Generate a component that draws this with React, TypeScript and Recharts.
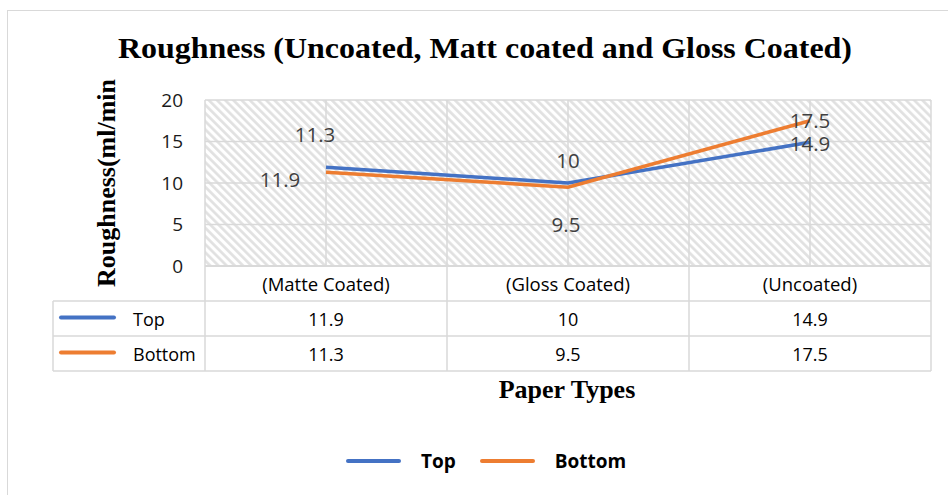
import React from 'react';
import { LineChart, Line, XAxis, YAxis, CartesianGrid, LabelList } from 'recharts';

// Paper types shown along the category axis
const categories = ['(Matte Coated)', '(Gloss Coated)', '(Uncoated)'];
// Roughness (ml/min) for each side of the sheet
const topValues = [11.9, 10, 14.9];
const bottomValues = [11.3, 9.5, 17.5];
const yTicks = [0, 5, 10, 15, 20];

const seriesNames = ['Top', 'Bottom'];
const seriesColors = ['#4472C4', '#ED7D31'];

const data = categories.map((name, i) => ({ name, top: topValues[i], bottom: bottomValues[i] }));

// Layout
const W = 948;
const H = 495;
const MARGIN = { top: 100, right: 17, bottom: 124, left: 145 };
const Y_AXIS_W = 60;
const PLOT_LEFT = MARGIN.left + Y_AXIS_W;
const PLOT_W = W - PLOT_LEFT - MARGIN.right;
const COL_W = PLOT_W / categories.length;
const HEADER_H = 35;
const ROW_H = 35;
const TABLE_LEFT = 53;
const X_AXIS_H = HEADER_H + ROW_H * 2;

const SANS = '"Open Sans", "Noto Sans", sans-serif';
const SERIF = '"Liberation Serif", "Times New Roman", serif';
const GRID = '#d9d9d9';

// Per-point label placement relative to each point (Excel-style positions)
const topLabelOffsets = [[-46, 12], [0, -23], [0, 1]];
const bottomLabelOffsets = [[-11, -38], [-2, 37], [0, -1]];

const makeLabel = (offsets: number[][]) => (p: any) => {
  const { x, y, value, index } = p;
  const [dx, dy] = offsets[index] || [0, 0];
  return (
    <text
      x={x + dx}
      y={y + dy}
      textAnchor="middle"
      dominantBaseline="central"
      fill="#404040"
      fontSize={20.5}
      fontFamily={SANS}
    >
      {value}
    </text>
  );
};

// Each category tick renders its column of the data table beneath the plot
const TableColumn = (props: any) => {
  const { x, y, payload, index } = props;
  const left = x - COL_W / 2;
  const right = x + COL_W / 2;
  const r1 = y + HEADER_H;
  const r2 = r1 + ROW_H;
  const r3 = r2 + ROW_H;
  const rowValues = [topValues[index], bottomValues[index]];
  return (
    <g>
      <text x={x} y={y + HEADER_H / 2} textAnchor="middle" dominantBaseline="central" fontSize={18.5} fontFamily={SANS} fill="#000">
        {payload.value}
      </text>
      {rowValues.map((v, i) => (
        <text key={i} x={x} y={r1 + ROW_H * i + ROW_H / 2} textAnchor="middle" dominantBaseline="central" fontSize={18} fontFamily={SANS} fill="#000">
          {v}
        </text>
      ))}
      <line x1={left} x2={right} y1={y} y2={y} stroke={GRID} strokeWidth={2} />
      <line x1={left} x2={right} y1={r1} y2={r1} stroke={GRID} strokeWidth={1.5} />
      <line x1={left} x2={right} y1={r2} y2={r2} stroke={GRID} strokeWidth={1.5} />
      <line x1={left} x2={right} y1={r3} y2={r3} stroke={GRID} strokeWidth={1.5} />
      <line x1={right} x2={right} y1={y} y2={r3} stroke={GRID} strokeWidth={1.5} />
      {index === 0 && (
        <g>
          <line x1={left} x2={left} y1={y} y2={r3} stroke={GRID} strokeWidth={1.5} />
          <line x1={TABLE_LEFT} x2={left} y1={r1} y2={r1} stroke={GRID} strokeWidth={1.5} />
          <line x1={TABLE_LEFT} x2={left} y1={r2} y2={r2} stroke={GRID} strokeWidth={1.5} />
          <line x1={TABLE_LEFT} x2={left} y1={r3} y2={r3} stroke={GRID} strokeWidth={1.5} />
          <line x1={TABLE_LEFT} x2={TABLE_LEFT} y1={r1} y2={r3} stroke={GRID} strokeWidth={1.5} />
          {seriesNames.map((s, i) => {
            const cy = r1 + ROW_H * i + ROW_H / 2;
            return (
              <g key={s}>
                <line x1={61} x2={114} y1={cy - 1} y2={cy - 1} stroke={seriesColors[i]} strokeWidth={4} strokeLinecap="round" />
                <text x={133} y={cy} dominantBaseline="central" fontSize={18} fontFamily={SANS} fill="#000">
                  {s}
                </text>
              </g>
            );
          })}
        </g>
      )}
    </g>
  );
};

const BottomLegend = () => (
  <div
    style={{
      position: 'absolute',
      left: 346,
      top: 448,
      display: 'flex',
      alignItems: 'center',
      fontFamily: SANS,
      fontWeight: 700,
      fontSize: 19,
      color: '#000',
      lineHeight: '26px',
    }}
  >
    {seriesNames.map((s, i) => (
      <div key={s} style={{ display: 'flex', alignItems: 'center', marginRight: i === 0 ? 24 : 0 }}>
        <span style={{ display: 'inline-block', width: 55, height: 4, borderRadius: 2, background: seriesColors[i], marginRight: 20 }} />
        <span>{s}</span>
      </div>
    ))}
  </div>
);

const gridColumns = ({ offset }: any) => {
  const n = categories.length * 2;
  return Array.from({ length: n + 1 }, (_, k) => offset.left + (offset.width * k) / n);
};

export default function App() {
  return (
    <div style={{ position: 'absolute', left: 0, top: 0, width: W, height: H, background: '#fff' }}>
      <LineChart width={W} height={H} data={data} margin={MARGIN}>
        <defs>
          <pattern id="hatch" width="5.8" height="5.8" patternUnits="userSpaceOnUse" patternTransform="rotate(-45)">
            <rect width="5.8" height="5.8" fill="#fff" />
            <line x1="1.4" y1="0" x2="1.4" y2="5.8" stroke="#e0e0e0" strokeWidth="2.6" />
          </pattern>
        </defs>
        <rect x={7.5} y={10.5} width={1200} height={1200} fill="none" stroke={GRID} strokeWidth={1} />
        <CartesianGrid
          stroke={GRID}
          strokeWidth={1.5}
          fill="url(#hatch)"
          fillOpacity={1}
          verticalCoordinatesGenerator={gridColumns}
        />
        <XAxis
          dataKey="name"
          axisLine={false}
          tickLine={false}
          tickSize={0}
          tickMargin={0}
          interval={0}
          height={X_AXIS_H}
          padding={{ left: COL_W / 2, right: COL_W / 2 }}
          tick={<TableColumn />}
        />
        <YAxis
          width={Y_AXIS_W}
          domain={[0, 20]}
          ticks={yTicks}
          axisLine={false}
          tickLine={false}
          tickSize={0}
          tickMargin={22}
          tick={{ fontSize: 19, fontFamily: SANS, fill: '#1a1a1a' }}
        />
        <Line type="linear" dataKey="top" name="Top" stroke={seriesColors[0]} strokeWidth={3.5} dot={false} isAnimationActive={false}>
          <LabelList dataKey="top" content={makeLabel(topLabelOffsets)} />
        </Line>
        <Line type="linear" dataKey="bottom" name="Bottom" stroke={seriesColors[1]} strokeWidth={3.5} dot={false} isAnimationActive={false}>
          <LabelList dataKey="bottom" content={makeLabel(bottomLabelOffsets)} />
        </Line>
        <text x={485} y={58} textAnchor="middle" fontFamily={SERIF} fontWeight={700} fontSize={30} textLength={734} lengthAdjust="spacingAndGlyphs" fill="#000">
          Roughness (Uncoated, Matt coated and Gloss Coated)
        </text>
        <text
          transform="translate(115,183) rotate(-90)"
          textAnchor="middle"
          fontFamily={SERIF}
          fontWeight={700}
          fontSize={26}
          fill="#000"
        >
          Roughness(ml/min
        </text>
        <text x={567} y={398} textAnchor="middle" fontFamily={SERIF} fontWeight={700} fontSize={26} fill="#000">
          Paper Types
        </text>
      </LineChart>
      <BottomLegend />
    </div>
  );
}
